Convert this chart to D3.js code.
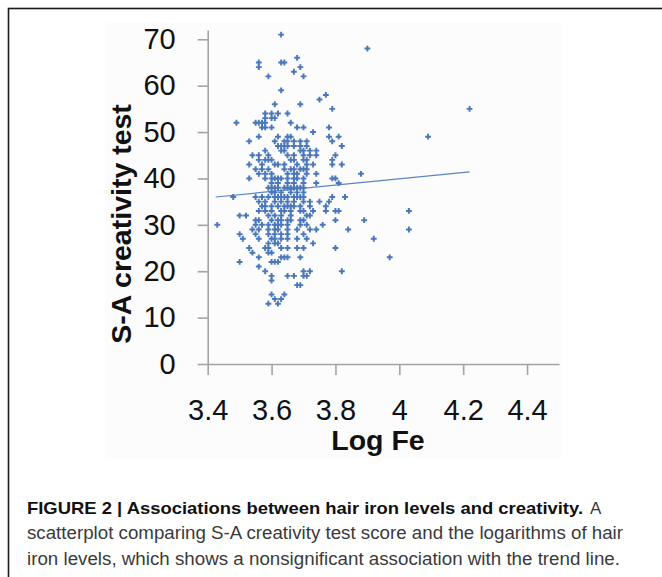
<!DOCTYPE html>
<html>
<head>
<meta charset="utf-8">
<script src="https://cdn.jsdelivr.net/npm/d3@7"></script>
<style>
body { margin: 0; background: #fff; }
svg text { font-family: "Liberation Sans", Arial, sans-serif; }
</style>
</head>
<body>
<svg id="chart"></svg>
<script>
// Data: [log Fe, S-A score]
const points = [
    [3.63,71],
    [3.90,68],
    [3.68,66],
    [3.56,65],[3.63,65],[3.64,65],
    [3.56,64],[3.69,64],
    [3.67,63],
    [3.59,62],[3.70,62],
    [3.63,59],
    [3.77,58],
    [3.75,57],
    [3.61,56],[3.69,56],
    [3.79,55],[4.22,55],
    [3.58,54],[3.60,54],[3.62,54],[3.65,54],
    [3.58,53],[3.60,53],[3.61,53],
    [3.49,52],[3.55,52],[3.56,52],[3.57,52],[3.58,52],[3.66,52],
    [3.57,51],[3.58,51],[3.60,51],[3.68,51],[3.70,51],[3.78,51],
    [3.73,50],
    [3.56,49],[3.62,49],[3.65,49],[3.66,49],[3.78,49],[3.81,49],[4.09,49],
    [3.53,48],[3.61,48],[3.64,48],[3.65,48],[3.67,48],[3.69,48],[3.71,48],[3.79,48],
    [3.62,47],[3.63,47],[3.64,47],[3.65,47],[3.67,47],[3.69,47],[3.71,47],[3.82,47],
    [3.58,46],[3.63,46],[3.64,46],[3.69,46],[3.70,46],[3.72,46],[3.74,46],
    [3.54,45],[3.56,45],[3.59,45],[3.65,45],[3.67,45],[3.70,45],[3.72,45],[3.74,45],[3.80,45],
    [3.56,44],[3.58,44],[3.59,44],[3.60,44],[3.66,44],[3.67,44],[3.70,44],[3.71,44],[3.79,44],
    [3.53,43],[3.57,43],[3.61,43],[3.62,43],[3.64,43],[3.68,43],[3.71,43],[3.73,43],[3.79,43],[3.82,43],
    [3.55,42],[3.57,42],[3.59,42],[3.64,42],[3.66,42],[3.67,42],[3.69,42],[3.70,42],[3.71,42],
    [3.56,41],[3.58,41],[3.60,41],[3.65,41],[3.67,41],[3.68,41],[3.71,41],[3.74,41],[3.88,41],
    [3.53,40],[3.58,40],[3.60,40],[3.61,40],[3.62,40],[3.63,40],[3.65,40],[3.67,40],[3.68,40],[3.70,40],[3.79,40],[3.80,40],
    [3.60,39],[3.62,39],[3.65,39],[3.67,39],[3.70,39],[3.74,39],[3.81,39],
    [3.59,38],[3.60,38],[3.61,38],[3.62,38],[3.64,38],[3.65,38],[3.66,38],[3.67,38],[3.68,38],[3.69,38],[3.70,38],
    [3.60,37],[3.61,37],[3.63,37],[3.66,37],[3.68,37],[3.70,37],
    [3.48,36],[3.55,36],[3.57,36],[3.59,36],[3.61,36],[3.62,36],[3.63,36],[3.64,36],[3.65,36],[3.67,36],[3.68,36],[3.69,36],[3.70,36],[3.79,36],[3.83,36],
    [3.56,35],[3.58,35],[3.61,35],[3.63,35],[3.65,35],[3.67,35],[3.70,35],[3.72,35],[3.75,35],[3.78,35],
    [3.57,34],[3.58,34],[3.60,34],[3.62,34],[3.64,34],[3.65,34],[3.66,34],[3.67,34],[3.69,34],[3.72,34],[3.77,34],
    [3.56,33],[3.58,33],[3.60,33],[3.63,33],[3.64,33],[3.66,33],[3.69,33],[3.70,33],[3.73,33],[3.77,33],[3.80,33],[3.81,33],[4.03,33],
    [3.50,32],[3.52,32],[3.59,32],[3.61,32],[3.63,32],[3.66,32],[3.71,32],[3.72,32],
    [3.55,31],[3.56,31],[3.60,31],[3.62,31],[3.63,31],[3.65,31],[3.66,31],[3.69,31],[3.70,31],[3.80,31],[3.89,31],
    [3.43,30],[3.55,30],[3.57,30],[3.59,30],[3.61,30],[3.62,30],[3.63,30],[3.65,30],[3.69,30],[3.71,30],[3.76,30],
    [3.54,29],[3.56,29],[3.59,29],[3.61,29],[3.62,29],[3.65,29],[3.68,29],[3.72,29],[3.74,29],[3.84,29],[4.03,29],
    [3.50,28],[3.55,28],[3.59,28],[3.61,28],[3.63,28],[3.65,28],[3.70,28],
    [3.51,27],[3.56,27],[3.60,27],[3.61,27],[3.63,27],[3.65,27],[3.68,27],[3.71,27],[3.92,27],
    [3.59,26],[3.61,26],[3.62,26],[3.73,26],
    [3.53,25],[3.58,25],[3.59,25],[3.63,25],[3.65,25],[3.68,25],[3.70,25],[3.80,25],
    [3.54,24],[3.59,24],[3.60,24],
    [3.56,23],[3.63,23],[3.64,23],[3.65,23],[3.69,23],[3.97,23],
    [3.50,22],[3.60,22],[3.61,22],[3.62,22],
    [3.56,21],
    [3.58,20],[3.70,20],[3.72,20],[3.82,20],
    [3.60,19],[3.65,19],[3.67,19],[3.70,19],[3.71,19],
    [3.60,18],
    [3.68,17],[3.69,17],
    [3.60,15],[3.64,15],
    [3.61,14],[3.63,14],
    [3.59,13],[3.62,13]
];

// Trend line end points (log Fe, score)
const trendLogFe = [3.425, 4.22];
const trendScore = [36.0, 41.4];

// Axis ticks
const xTicks = [3.4, 3.6, 3.8, 4, 4.2, 4.4];
const yTicks = [0, 10, 20, 30, 40, 50, 60, 70];

// Caption text
const captionBold = "FIGURE 2 | Associations between hair iron levels and creativity.";
const captionLines = [
    "scatterplot comparing S-A creativity test score and the logarithms of hair",
    "iron levels, which shows a nonsignificant association with the trend line."
];

const width = 662, height = 577;
const svg = d3.select("#chart")
    .attr("width", width)
    .attr("height", height);

// Figure frame (runs off the right and bottom edges)
svg.append("rect")
    .attr("x", 8.5).attr("y", 8.5)
    .attr("width", 700).attr("height", 700)
    .attr("fill", "#fff")
    .attr("stroke", "#1a1a1a")
    .attr("stroke-width", 1.6);

// Slightly off-white pasted chart image
svg.append("rect")
    .attr("x", 105).attr("y", 23)
    .attr("width", 457).attr("height", 436)
    .attr("fill", "#fcfcfc");

const x = d3.scaleLinear().domain([3.4, 4.5]).range([207.7, 559]);
const y = d3.scaleLinear().domain([0, 72]).range([364, 30]);

const axisColor = "#a3a3a3";

// Y axis
const gy = svg.append("g")
    .attr("transform", `translate(${x(3.4)},0)`)
    .call(d3.axisLeft(y).tickValues(yTicks).tickSize(10).tickSizeOuter(0).tickPadding(22));

// X axis
const gx = svg.append("g")
    .attr("transform", `translate(0,${y(0)})`)
    .call(d3.axisBottom(x).tickValues(xTicks).tickFormat(d => String(d)).tickSize(11).tickSizeOuter(0).tickPadding(24));

[gx, gy].forEach(g => {
    g.select(".domain").attr("stroke", axisColor).attr("stroke-width", 1.6);
    g.selectAll(".tick line").attr("stroke", axisColor).attr("stroke-width", 1.6);
    g.selectAll(".tick text")
        .attr("fill", "#111")
        .style("font-size", "29px")
        .style("font-family", "'Liberation Sans', Arial, sans-serif");
});

// Axis titles
svg.append("text")
    .attr("x", 378).attr("y", 450)
    .attr("text-anchor", "middle")
    .attr("fill", "#111")
    .style("font-size", "28.5px")
    .style("font-weight", "bold")
    .text("Log Fe");

svg.append("text")
    .attr("transform", "translate(131,224) rotate(-90)")
    .attr("text-anchor", "middle")
    .attr("fill", "#111")
    .style("font-size", "28.5px")
    .style("font-weight", "bold")
    .text("S-A creativity test");

// Trend line
svg.append("line")
    .attr("x1", x(trendLogFe[0])).attr("y1", y(trendScore[0]))
    .attr("x2", x(trendLogFe[1])).attr("y2", y(trendScore[1]))
    .attr("stroke", "#5b85c2")
    .attr("stroke-width", 1.2);

// Points
const marker = d3.symbol().type(d3.symbolCross).size(19);
svg.append("g")
    .selectAll("path")
    .data(points)
    .join("path")
    .attr("transform", d => `translate(${x(d[0])},${y(d[1])})`)
    .attr("d", marker)
    .attr("fill", "#4a77b9");

// Caption
const capFont = "'Liberation Sans', Arial, sans-serif";
svg.append("text")
    .attr("x", 27).attr("y", 514)
    .attr("textLength", 556).attr("lengthAdjust", "spacingAndGlyphs")
    .attr("fill", "#111")
    .style("font-family", capFont)
    .style("font-size", "17px")
    .style("font-weight", "bold")
    .text(captionBold);

svg.append("text")
    .attr("x", 590).attr("y", 514)
    .attr("fill", "#3a3a3a")
    .style("font-family", capFont)
    .style("font-size", "17px")
    .text("A");

const capEnds = [623, 620];
captionLines.forEach((line, i) => {
    svg.append("text")
        .attr("x", 27).attr("y", 539 + i * 25.5)
        .attr("textLength", capEnds[i] - 27).attr("lengthAdjust", "spacingAndGlyphs")
        .attr("fill", "#3a3a3a")
        .style("font-family", capFont)
        .style("font-size", "17.5px")
        .text(line);
});
</script>
</body>
</html>
